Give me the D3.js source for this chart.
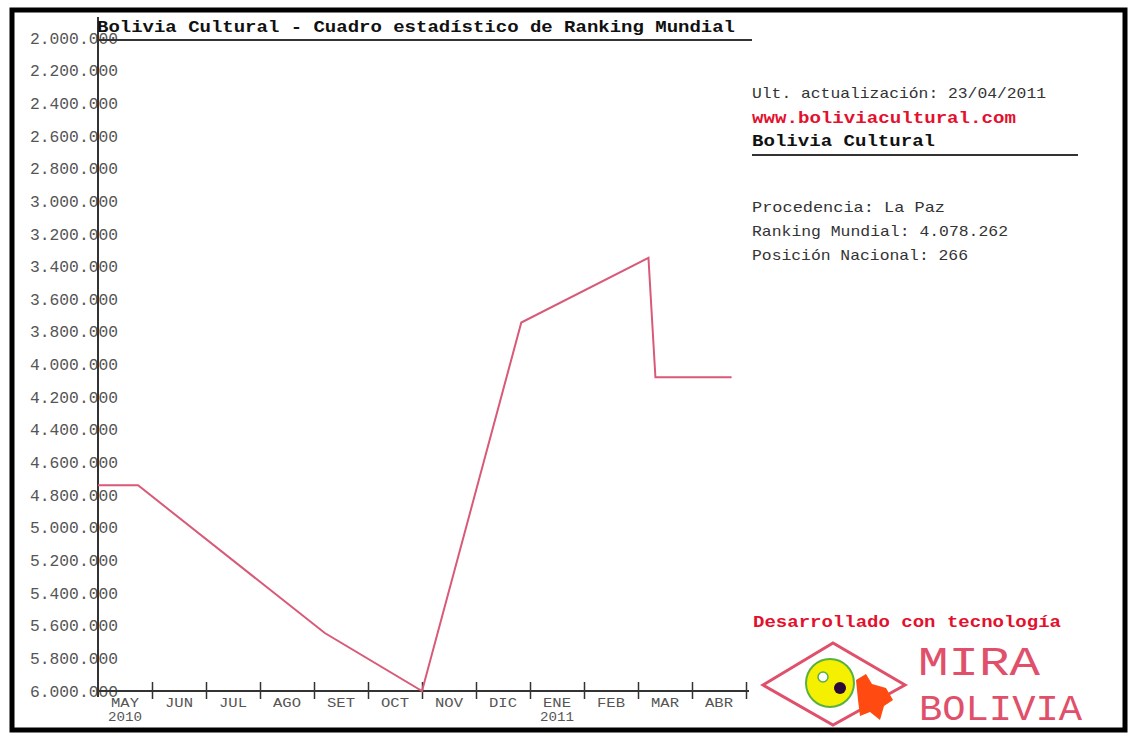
<!DOCTYPE html>
<html>
<head>
<meta charset="utf-8">
<script src="https://cdn.jsdelivr.net/npm/d3@7"></script>
<style>
  body { margin: 0; background: #fff; }
  text { font-family: "Liberation Mono", "DejaVu Sans Mono", monospace; }
</style>
</head>
<body>
<div id="chart"></div>
<script>
// data (ranking: lower is better, axis is reversed)
const dates = ["2010-05-01", "2010-05-24", "2010-09-07", "2010-11-01", "2010-12-27", "2011-03-07", "2011-03-11", "2011-04-23"];
const ranking = [4740000, 4740000, 5645000, 6000000, 3743000, 3346000, 4078262, 4078262];
const months = ["MAY", "JUN", "JUL", "AGO", "SET", "OCT", "NOV", "DIC", "ENE", "FEB", "MAR", "ABR"];
const years = {0: "2010", 8: "2011"};
const yTicks = d3.range(2000000, 6000001, 200000);
const infoLines = ["Procedencia: La Paz", "Ranking Mundial: 4.078.262", "Posición Nacional: 266"];

const W = 1130, H = 734;
const svg = d3.select("#chart").append("svg")
    .attr("width", W)
    .attr("height", H);

svg.append("rect").attr("width", W).attr("height", H).attr("fill", "#fff");

// frame
svg.append("rect")
    .attr("x", 12).attr("y", 10)
    .attr("width", 1113).attr("height", 720)
    .attr("fill", "none")
    .attr("stroke", "#000")
    .attr("stroke-width", 5);

// month position: index from May 2010 plus fraction of month
const parse = d3.timeParse("%Y-%m-%d");
function monthPos(s) {
    const d = parse(s);
    const start = d3.timeMonth.floor(d);
    const next = d3.timeMonth.offset(start, 1);
    const idx = (d.getFullYear() - 2010) * 12 + d.getMonth() - 4;
    return idx + (d - start) / (next - start);
}

const x = d3.scaleLinear().domain([0, 12]).range([98, 746]);
const y = d3.scaleLinear().domain([2000000, 6000000]).range([38, 691]);

const locale = d3.formatLocale({decimal: ",", thousands: ".", grouping: [3], currency: ["", ""]});
const fmt = locale.format(",d");

// y axis
const yAxis = svg.append("g")
    .attr("transform", "translate(98,0)")
    .call(d3.axisLeft(y).tickValues(yTicks).tickSize(0).tickPadding(-20).tickFormat(fmt));
yAxis.select(".domain").remove();
yAxis.selectAll("text")
    .attr("font-family", "Liberation Mono")
    .attr("font-size", 16)
    .attr("fill", "#555")
    .attr("textLength", 88)
    .attr("lengthAdjust", "spacingAndGlyphs");

svg.append("line")
    .attr("x1", 98).attr("x2", 98)
    .attr("y1", 17).attr("y2", 697)
    .attr("stroke", "#333").attr("stroke-width", 2);

// x axis
const xAxis = svg.append("g")
    .attr("transform", "translate(0,691)")
    .call(d3.axisBottom(x).tickValues(d3.range(1, 13)).tickSize(8).tickFormat(""));
xAxis.select(".domain").remove();
xAxis.selectAll(".tick line")
    .attr("y1", -9)
    .attr("stroke", "#333")
    .attr("stroke-width", 1.5);

svg.append("line")
    .attr("x1", 98).attr("x2", 749)
    .attr("y1", 691).attr("y2", 691)
    .attr("stroke", "#333").attr("stroke-width", 2);

svg.append("g").selectAll("text")
    .data(months)
    .enter().append("text")
    .attr("x", (d, i) => x(i + 0.5))
    .attr("y", 707)
    .attr("text-anchor", "middle")
    .attr("font-size", 12)
    .attr("fill", "#555")
    .attr("textLength", 28)
    .attr("lengthAdjust", "spacingAndGlyphs")
    .text(d => d);

svg.append("g").selectAll("text")
    .data(Object.keys(years))
    .enter().append("text")
    .attr("x", d => x(+d + 0.5))
    .attr("y", 721)
    .attr("text-anchor", "middle")
    .attr("font-size", 12)
    .attr("fill", "#555")
    .attr("textLength", 34)
    .attr("lengthAdjust", "spacingAndGlyphs")
    .text(d => years[d]);

// ranking line
const points = dates.map((d, i) => [monthPos(d), ranking[i]]);
svg.append("path")
    .datum(points)
    .attr("fill", "none")
    .attr("stroke", "#d85a78")
    .attr("stroke-width", 2)
    .attr("d", d3.line().x(d => x(d[0])).y(d => y(d[1])));

// title
svg.append("text")
    .attr("x", 97).attr("y", 32)
    .attr("font-family", "DejaVu Sans Mono")
    .attr("font-weight", "bold")
    .attr("font-size", 17)
    .attr("fill", "#111")
    .attr("textLength", 638)
    .attr("lengthAdjust", "spacingAndGlyphs")
    .text("Bolivia Cultural - Cuadro estadístico de Ranking Mundial");
svg.append("line")
    .attr("x1", 97).attr("x2", 752)
    .attr("y1", 40).attr("y2", 40)
    .attr("stroke", "#333").attr("stroke-width", 2);

// right panel
function label(txt, xx, yy, len, opts) {
    const t = svg.append("text")
        .attr("x", xx).attr("y", yy)
        .attr("font-size", opts.size || 15)
        .attr("fill", opts.color || "#333")
        .attr("textLength", len)
        .attr("lengthAdjust", "spacingAndGlyphs")
        .text(txt);
    if (opts.bold) t.attr("font-weight", "bold").attr("font-family", "DejaVu Sans Mono");
    return t;
}
label("Ult. actualización: 23/04/2011", 752, 98, 294, {});
label("www.boliviacultural.com", 752, 123, 264, {bold: true, color: "#e3102e", size: 16});
label("Bolivia Cultural", 752, 146, 183, {bold: true, color: "#111", size: 16});
svg.append("line")
    .attr("x1", 752).attr("x2", 1078)
    .attr("y1", 155).attr("y2", 155)
    .attr("stroke", "#333").attr("stroke-width", 2);

const infoLen = [193, 256, 216];
infoLines.forEach((t, i) => label(t, 752, 212 + i * 24, infoLen[i], {}));

label("Desarrollado con tecnología", 753, 627, 308, {bold: true, color: "#e3102e", size: 16});

// logo
const logo = svg.append("g");
logo.append("polygon")
    .attr("points", "763,685 833,643 905,685 833,725")
    .attr("fill", "none")
    .attr("stroke", "#e0506a")
    .attr("stroke-width", 3);
logo.append("circle")
    .attr("cx", 830).attr("cy", 683).attr("r", 24)
    .attr("fill", "#f4f000")
    .attr("stroke", "#5ab040").attr("stroke-width", 2);
logo.append("circle")
    .attr("cx", 823).attr("cy", 677).attr("r", 5)
    .attr("fill", "#fff").attr("stroke", "#5ab040").attr("stroke-width", 1.5);
logo.append("circle")
    .attr("cx", 840).attr("cy", 688).attr("r", 6)
    .attr("fill", "#2a0a3a");
logo.append("path")
    .attr("d", "M856,680 L866,674 L872,684 L886,688 L893,700 L884,706 L880,720 L870,712 L860,716 L858,700 Z")
    .attr("fill", "#ff4a12");
logo.append("text")
    .attr("x", 918).attr("y", 675)
    .attr("font-family", "Roboto, 'DejaVu Sans'")
    .attr("font-weight", 100)
    .attr("font-size", 40)
    .attr("fill", "#e0506a")
    .attr("textLength", 122)
    .attr("lengthAdjust", "spacingAndGlyphs")
    .text("MIRA");
logo.append("text")
    .attr("x", 919).attr("y", 720)
    .attr("font-family", "Roboto, 'DejaVu Sans'")
    .attr("font-weight", 100)
    .attr("font-size", 37)
    .attr("fill", "#e0506a")
    .attr("textLength", 163)
    .attr("lengthAdjust", "spacingAndGlyphs")
    .text("BOLIVIA");
</script>
</body>
</html>
